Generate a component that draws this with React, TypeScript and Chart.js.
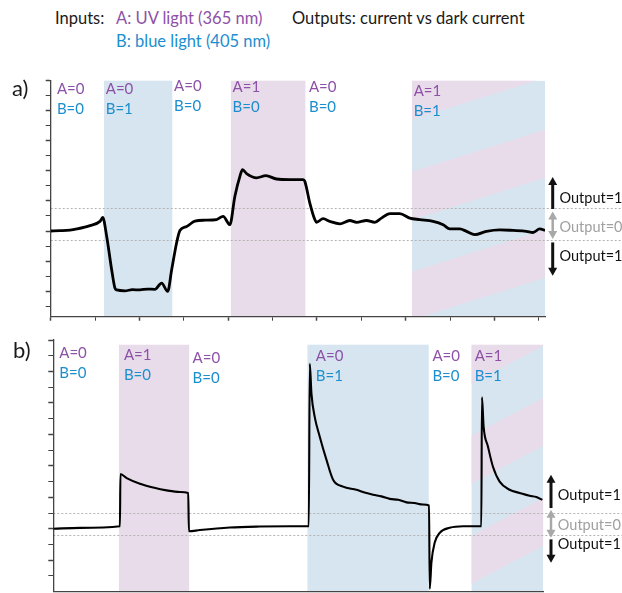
import { useEffect, useRef } from 'react';
import Chart from 'chart.js/auto';

const FONT = 'Lato, "Open Sans", "DejaVu Sans", sans-serif';
const PURPLE = '#8d51a8';
const CYAN = '#1b8ecf';
const BAND_BLUE = '#d6e5ef';
const BAND_PINK = '#e9dcea';
const AXIS = '#444444';

// panel a) - current vs time, arbitrary units
const aTime = [
  0, 0.105, 0.217, 0.296, 0.443, 0.555, 0.586, 0.631, 0.687, 0.724,
  0.743, 0.837, 0.92, 1.006, 1.09, 1.174, 1.25, 1.318, 1.363, 1.419,
  1.456, 1.532, 1.625, 1.738, 1.869, 1.943, 2.019, 2.075, 2.132, 2.162,
  2.207, 2.32, 2.425, 2.545, 2.695, 2.845, 2.864, 2.92, 2.976, 2.995,
  3.07, 3.145, 3.258, 3.37, 3.446, 3.559, 3.652, 3.727, 3.821, 3.934,
  4.046, 4.159, 4.309, 4.422, 4.497, 4.61, 4.685, 4.779, 4.91, 5.06,
  5.21, 5.36, 5.435, 5.51, 5.57,
];
const aCurrent = [
  0, 0.01, 0.03, 0.07, 0.18, 0.32, 0.45, -0.18, -1.29, -1.9,
  -1.96, -1.99, -1.95, -1.96, -1.93, -1.94, -1.73, -2.01, -1.29, -0.39,
  0.02, 0.15, 0.33, 0.36, 0.38, 0.49, 0.21, 1.15, 1.82, 2.04,
  1.91, 1.77, 1.84, 1.73, 1.71, 1.71, 1.65, 0.93, 0.38, 0.29,
  0.41, 0.32, 0.24, 0.35, 0.29, 0.35, 0.29, 0.43, 0.58, 0.58,
  0.43, 0.38, 0.32, 0.21, 0.07, 0.07, -0.01, -0.12, -0.01, 0.04,
  0.02, -0.01, -0.05, 0.07, 0.02,
];
const aXTicks = [0, 0.5, 1, 1.5, 2, 2.5, 3, 3.5, 4, 4.5, 5, 5.5];
const aYTicks = [-2.5, -2, -1.5, -1, -0.5, 0, 0.5, 1, 1.5, 2, 2.5, 3, 3.5, 4, 4.5, 5];
const aDark = [0.75, -0.3];
const aBandStart = [0.6, 2.03, 4.07];
const aBandEnd = [1.37, 2.87, 5.57];
const aBandKind = ['B', 'A', 'AB'];
const aLabelX = [0.07, 0.62, 1.39, 2.05, 2.91, 4.09];
const aLabelY = [4.71, 4.71, 4.81, 4.78, 4.78, 4.65];
const aInputA = [0, 0, 0, 1, 0, 1];
const aInputB = [0, 1, 0, 0, 0, 1];

// panel b)
const bTime = [
  0, 0.3, 0.749, 0.755, 0.825, 0.974, 1.124, 1.274, 1.424, 1.517,
  1.525, 1.648, 1.985, 2.322, 2.66, 2.873, 2.884, 2.903, 2.94, 2.997,
  3.072, 3.146, 3.258, 3.409, 3.5, 3.596, 3.69, 3.783, 3.88, 3.971,
  4.06, 4.157, 4.225, 4.233, 4.252, 4.289, 4.345, 4.457, 4.607, 4.813,
  4.82, 4.839, 4.888, 4.944, 5.019, 5.131, 5.244, 5.356, 5.432, 5.499,
];
const bCurrent = [
  0, 0.03, 0.08, 1.74, 1.61, 1.43, 1.31, 1.22, 1.17, 1.14,
  -0.08, -0.04, 0.04, 0.07, 0.08, 0.08, 5.24, 4.29, 3.55, 2.92,
  2.19, 1.56, 1.34, 1.24, 1.15, 1.08, 1.03, 0.95, 0.92, 0.84,
  0.82, 0.77, 0.74, -1.91, -1.07, -0.44, -0.13, 0.03, 0.08, 0.08,
  4.18, 3.24, 2.61, 1.97, 1.5, 1.24, 1.14, 1.05, 1.01, 0.92,
];
const bYTicks = [-1.5, -1, -0.5, 0, 0.5, 1, 1.5, 2, 2.5, 3, 3.5, 4, 4.5, 5, 5.5, 6];
const bDark = [0.5, -0.2];
const bBandStart = [0.738, 2.858, 4.701];
const bBandEnd = [1.528, 4.221, 5.51];
const bBandKind = ['A', 'B', 'AB'];
const bLabelX = [0.067, 0.794, 1.566, 2.952, 4.263, 4.738];
const bLabelY = [5.57, 5.53, 5.43, 5.5, 5.5, 5.5];
const bInputA = [0, 1, 0, 0, 0, 1];
const bInputB = [0, 0, 0, 1, 0, 1];

type Panel = {
  bandStart: number[];
  bandEnd: number[];
  bandKind: string[];
  bandTop: number;
  dark: number[];
  labelX: number[];
  labelY: number[];
  inputA: number[];
  inputB: number[];
  rise: number;
  // pixel offsets for the output arrows / labels (from the dark-current lines)
  out: { up: number[]; gray: number[]; down: number[]; text: number[] };
};

function arrow(ctx: CanvasRenderingContext2D, x: number, y0: number, y1: number, color: string, width: number, both: boolean) {
  const head = 8;
  const dir = Math.sign(y1 - y0);
  ctx.save();
  ctx.strokeStyle = color;
  ctx.fillStyle = color;
  ctx.lineWidth = width;
  ctx.beginPath();
  ctx.moveTo(x, both ? y0 + dir * head * 0.8 : y0);
  ctx.lineTo(x, y1 - dir * head * 0.8);
  ctx.stroke();
  const tip = (ty: number, d: number) => {
    ctx.beginPath();
    ctx.moveTo(x, ty);
    ctx.lineTo(x - 4.5, ty - d * head);
    ctx.lineTo(x + 4.5, ty - d * head);
    ctx.closePath();
    ctx.fill();
  };
  tip(y1, dir);
  if (both) tip(y0, -dir);
  ctx.restore();
}

function overlay(p: Panel) {
  return {
    id: 'overlay',
    beforeDraw(chart: any) {
      const { ctx, chartArea: ca, scales } = chart;
      const { x, y } = scales;
      const top = y.getPixelForValue(p.bandTop);
      p.bandStart.forEach((s, i) => {
        const x0 = x.getPixelForValue(s);
        const x1 = x.getPixelForValue(p.bandEnd[i]);
        ctx.save();
        if (p.bandKind[i] === 'AB') {
          ctx.beginPath();
          ctx.rect(x0, top, x1 - x0, ca.bottom - top);
          ctx.clip();
          ctx.fillStyle = BAND_BLUE;
          ctx.fillRect(x0, top, x1 - x0, ca.bottom - top);
          ctx.fillStyle = BAND_PINK;
          for (let s0 = top - 9; s0 < ca.bottom + 80; s0 += 100) {
            ctx.beginPath();
            ctx.moveTo(x0, s0);
            ctx.lineTo(x1, s0 - p.rise);
            ctx.lineTo(x1, s0 - p.rise + 48);
            ctx.lineTo(x0, s0 + 48);
            ctx.closePath();
            ctx.fill();
          }
        } else {
          ctx.fillStyle = p.bandKind[i] === 'A' ? BAND_PINK : BAND_BLUE;
          ctx.fillRect(x0, top, x1 - x0, ca.bottom - top);
        }
        ctx.restore();
      });
      ctx.save();
      ctx.strokeStyle = '#b4b4b4';
      ctx.lineWidth = 1;
      ctx.setLineDash([2, 2]);
      p.dark.forEach((v) => {
        const py = Math.round(y.getPixelForValue(v)) + 0.5;
        ctx.beginPath();
        ctx.moveTo(ca.left, py);
        ctx.lineTo(chart.width, py);
        ctx.stroke();
      });
      ctx.restore();
    },
    afterDraw(chart: any) {
      const { ctx, chartArea: ca, scales } = chart;
      const { x, y } = scales;
      ctx.save();
      ctx.font = `15px ${FONT}`;
      ctx.textBaseline = 'middle';
      p.labelX.forEach((lx, i) => {
        const px = x.getPixelForValue(lx);
        const py = y.getPixelForValue(p.labelY[i]);
        ctx.fillStyle = PURPLE;
        ctx.fillText(`A=${p.inputA[i]}`, px, py);
        ctx.fillStyle = CYAN;
        ctx.fillText(`B=${p.inputB[i]}`, px, py + 20);
      });
      const hi = y.getPixelForValue(p.dark[0]);
      const lo = y.getPixelForValue(p.dark[1]);
      const xa = ca.right + 7.7;
      const o = p.out;
      arrow(ctx, xa, hi + o.up[0], hi + o.up[1], '#111', 3, false);
      arrow(ctx, xa, hi + o.gray[0], lo + o.gray[1], '#a8a8a8', 2.5, true);
      arrow(ctx, xa, lo + o.down[0], lo + o.down[1], '#111', 3, false);
      ctx.font = `14.5px ${FONT}`;
      ctx.fillStyle = '#111';
      ctx.fillText('Output=1', ca.right + 14.5, hi + o.text[0]);
      ctx.fillStyle = '#a0a0a0';
      ctx.fillText('Output=0', ca.right + 14.5, lo + o.text[1]);
      ctx.fillStyle = '#111';
      ctx.fillText('Output=1', ca.right + 14.5, lo + o.text[2]);
      ctx.restore();
    },
  };
}

function makeChart(
  canvas: HTMLCanvasElement,
  time: number[],
  current: number[],
  xMax: number,
  yMin: number,
  yMax: number,
  yTicks: number[],
  xTicks: number[] | null,
  lineWidth: number,
  padding: { left: number; right: number; top: number; bottom: number },
  panel: Panel
) {
  return new Chart(canvas, {
    type: 'line',
    data: {
      datasets: [
        {
          data: time.map((t, i) => ({ x: t, y: current[i] })),
          borderColor: '#000',
          borderWidth: lineWidth,
          pointRadius: 0,
          fill: false,
          cubicInterpolationMode: 'monotone',
        },
      ],
    },
    options: {
      animation: false,
      responsive: true,
      maintainAspectRatio: false,
      layout: { padding },
      plugins: { legend: { display: false }, tooltip: { enabled: false } },
      scales: {
        x: {
          type: 'linear',
          min: 0,
          max: xMax,
          afterBuildTicks: (s: any) => {
            s.ticks = (xTicks || []).map((v) => ({ value: v }));
          },
          afterFit: (s: any) => {
            s.height = 8;
          },
          ticks: { display: false },
          grid: {
            drawOnChartArea: false,
            tickLength: 4,
            color: AXIS,
            tickWidth: (c: any) => (Number.isInteger(c.tick?.value) ? 1.5 : 1),
          },
          border: { color: AXIS, width: 1.3 },
        },
        y: {
          min: yMin,
          max: yMax,
          afterBuildTicks: (s: any) => {
            s.ticks = yTicks.map((v) => ({ value: v }));
          },
          afterFit: (s: any) => {
            s.width = 8;
          },
          ticks: { display: false },
          grid: {
            drawOnChartArea: false,
            tickLength: 5,
            color: AXIS,
            tickWidth: (c: any) => (Number.isInteger(c.tick?.value) ? 1.5 : 1),
          },
          border: { color: AXIS, width: 1.3 },
        },
      },
    },
    plugins: [overlay(panel)],
  } as any);
}

export default function App() {
  const aRef = useRef<HTMLCanvasElement | null>(null);
  const bRef = useRef<HTMLCanvasElement | null>(null);

  useEffect(() => {
    if (!aRef.current || !bRef.current) return;
    const chartA = makeChart(
      aRef.current, aTime, aCurrent, 5.57, -2.85, 5, aYTicks, aXTicks, 2.8,
      { left: 42.7, right: 77, top: 20.7, bottom: 5.3 },
      {
        bandStart: aBandStart, bandEnd: aBandEnd, bandKind: aBandKind, bandTop: 5,
        dark: aDark, labelX: aLabelX, labelY: aLabelY, inputA: aInputA, inputB: aInputB,
        rise: 42,
        out: { up: [0.5, -31.5], gray: [3, -1], down: [2.4, 35.7], text: [-10.4, -12.6, 16.4] },
      }
    );
    const chartB = makeChart(
      bRef.current, bTime, bCurrent, 5.51, -2, 6, bYTicks, null, 2.1,
      { left: 45.3, right: 78.7, top: 15, bottom: 5.3 },
      {
        bandStart: bBandStart, bandEnd: bBandEnd, bandKind: bBandKind, bandTop: 5.85,
        dark: bDark, labelX: bLabelX, labelY: bLabelY, inputA: bInputA, inputB: bInputB,
        rise: 38,
        out: { up: [-5, -38.3], gray: [-3.3, 2.6], down: [4.3, 27.6], text: [-17.3, -9.7, 9.3] },
      }
    );
    return () => {
      chartA.destroy();
      chartB.destroy();
    };
  }, []);

  const txt = { position: 'absolute' as const, fontSize: 16.5, lineHeight: '20px', whiteSpace: 'nowrap' as const };

  return (
    <div
      style={{
        position: 'absolute',
        left: 0,
        top: 0,
        width: 622,
        height: 593,
        overflow: 'hidden',
        background: '#fff',
        fontFamily: FONT,
        color: '#1a1a1a',
      }}
    >
      <div style={{ ...txt, left: 55, top: 8 }}>Inputs:</div>
      <div style={{ ...txt, left: 116, top: 8, color: PURPLE }}>A: UV light (365 nm)</div>
      <div style={{ ...txt, left: 292, top: 8 }}>Outputs: current vs dark current</div>
      <div style={{ ...txt, left: 116, top: 31, color: CYAN }}>B: blue light (405 nm)</div>
      <div style={{ position: 'absolute', left: 0, top: 60, width: 622, height: 270 }}>
        <canvas ref={aRef}></canvas>
      </div>
      <div style={{ position: 'absolute', left: 0, top: 325, width: 622, height: 280 }}>
        <canvas ref={bRef}></canvas>
      </div>
      <div style={{ position: 'absolute', left: 12, top: 75, fontSize: 22, lineHeight: '26px' }}>a)</div>
      <div style={{ position: 'absolute', left: 13, top: 337, fontSize: 22, lineHeight: '26px' }}>b)</div>
    </div>
  );
}
